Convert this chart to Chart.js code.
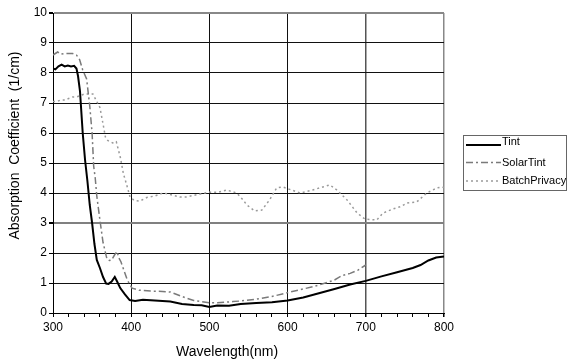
<!DOCTYPE html>
<html>
<head>
<meta charset="utf-8">
<script src="https://cdn.jsdelivr.net/npm/chart.js@4"></script>
<style>
  html, body { margin: 0; padding: 0; background: #fff; }
  #wrap { width: 567px; height: 364px; }
</style>
</head>
<body>
<div id="wrap"><canvas id="myChart" width="567" height="364"></canvas></div>
<script>
// wavelengths (nm) and absorption coefficient (1/cm)
const tint_nm = [300, 303, 307, 311, 315, 319, 323, 327, 330, 332, 334.5, 338, 341, 344, 347, 350, 353, 356, 360, 364, 368, 371, 375, 379, 382, 386, 392, 398, 405, 415, 430, 450, 465, 480, 490, 500, 510, 525, 540, 560, 580, 600, 620, 640, 660, 680, 700, 720, 740, 760, 770, 780, 790, 800];
const tint_val = [8.15, 8.12, 8.22, 8.28, 8.22, 8.25, 8.22, 8.24, 8.15, 7.9, 7.4, 6.0, 5.1, 4.4, 3.6, 3.0, 2.3, 1.77, 1.5, 1.2, 0.98, 0.97, 1.05, 1.2, 1.05, 0.83, 0.62, 0.43, 0.4, 0.44, 0.42, 0.38, 0.3, 0.27, 0.26, 0.2, 0.25, 0.24, 0.3, 0.33, 0.36, 0.42, 0.52, 0.66, 0.8, 0.95, 1.07, 1.22, 1.36, 1.5, 1.6, 1.75, 1.85, 1.88];

const solar_nm = [300, 303, 306, 310, 315, 320, 325, 330, 334, 338, 343, 347, 350, 352, 354, 356, 360, 364, 369, 372, 375, 379, 382, 384, 387, 391, 395, 401, 410, 425, 440, 450, 460, 470, 480, 490, 500, 510, 530, 540, 560, 580, 600, 620, 640, 660, 665, 670, 680, 690, 700];
const solar_val = [8.6, 8.65, 8.7, 8.63, 8.65, 8.65, 8.65, 8.6, 8.45, 8.1, 7.8, 6.9, 6.0, 4.9, 4.5, 3.9, 3.1, 2.35, 1.8, 1.75, 1.77, 1.95, 2.05, 1.85, 1.7, 1.4, 1.1, 0.83, 0.76, 0.73, 0.72, 0.7, 0.6, 0.5, 0.42, 0.38, 0.34, 0.34, 0.38, 0.4, 0.46, 0.55, 0.68, 0.8, 0.93, 1.1, 1.18, 1.25, 1.32, 1.43, 1.6];

const batch_nm = [300, 305, 310, 315, 320, 325, 330, 335, 340, 345, 351, 356, 360, 364, 367, 370, 374, 378, 381, 383, 386, 390, 395, 398.5, 404, 411, 420, 430, 441, 450, 462, 471, 485, 500, 510, 522, 535, 542, 548, 558, 567, 577, 586, 594, 605, 616, 632, 645, 654, 663, 676, 689, 699, 714, 722, 735, 745, 753, 765, 778, 791, 797, 800];
const batch_val = [7.05, 7.05, 7.1, 7.1, 7.15, 7.2, 7.2, 7.25, 7.3, 7.3, 7.3, 7.05, 6.85, 6.3, 5.87, 5.75, 5.7, 5.65, 5.7, 5.5, 5.2, 4.65, 4.2, 3.87, 3.75, 3.73, 3.85, 3.9, 4.0, 3.95, 3.87, 3.87, 3.95, 4.03, 4.02, 4.1, 4.0, 3.8, 3.6, 3.4, 3.43, 3.77, 4.17, 4.2, 4.1, 4.0, 4.1, 4.2, 4.27, 4.1, 3.77, 3.33, 3.13, 3.1, 3.33, 3.47, 3.55, 3.67, 3.7, 4.0, 4.17, 4.2, 4.18];

const series_names = ["Tint", "SolarTint", "BatchPrivacy"];

function pts(xs, ys) {
  return xs.map((x, i) => ({ x: x, y: ys[i] }));
}

const font_family = "'Liberation Sans', Arial, sans-serif";

const data = {
  datasets: [
    {
      label: series_names[0],
      data: pts(tint_nm, tint_val),
      borderColor: "#000",
      borderWidth: 2,
    },
    {
      label: series_names[1],
      data: pts(solar_nm, solar_val),
      borderColor: "#7a7a7a",
      borderWidth: 1.5,
      borderDash: [7, 3, 2, 3],
    },
    {
      label: series_names[2],
      data: pts(batch_nm, batch_val),
      borderColor: "#9a9a9a",
      borderWidth: 1.5,
      borderDash: [2, 3],
    },
  ],
};

// boxed legend on the right, like the original
const boxLegend = {
  id: "boxLegend",
  afterDraw(chart) {
    const ctx = chart.ctx;
    const x0 = 463, y0 = 135, w = 103, h = 55;
    ctx.save();
    ctx.strokeStyle = "#666";
    ctx.lineWidth = 1;
    ctx.strokeRect(x0 + 0.5, y0 + 0.5, w, h);
    ctx.font = "11px " + font_family;
    ctx.textBaseline = "middle";
    ctx.fillStyle = "#000";
    chart.data.datasets.forEach((ds, i) => {
      const y = y0 + 9 + i * 18.5;
      ctx.beginPath();
      ctx.strokeStyle = ds.borderColor;
      ctx.lineWidth = ds.borderWidth;
      ctx.setLineDash(ds.borderDash || []);
      ctx.moveTo(x0 + 3, y + (i === 0 ? 1 : 0));
      ctx.lineTo(x0 + 38, y + (i === 0 ? 1 : 0));
      ctx.stroke();
      ctx.setLineDash([]);
      ctx.fillText(ds.label, x0 + 39, y - (i === 0 ? 2 : 0));
    });
    ctx.restore();
  },
};

const config = {
  type: "line",
  data,
  options: {
    responsive: false,
    animation: false,
    events: [],
    layout: { padding: { top: 13, right: 123, left: 0, bottom: 0 } },
    elements: {
      point: { radius: 0 },
      line: { tension: 0, fill: false },
    },
    plugins: {
      legend: { display: false },
      tooltip: { enabled: false },
    },
    scales: {
      x: {
        type: "linear",
        min: 300,
        max: 800,
        afterFit: (s) => { s.height = 51; },
        ticks: {
          stepSize: 20,
          autoSkip: false,
          maxRotation: 0,
          padding: 3,
          color: "#000",
          font: { family: font_family, size: 12 },
          callback: (v) => (v % 100 === 0 ? v : ""),
        },
        grid: {
          tickLength: 4,
          tickColor: "#000",
          color: (c) => {
            const v = c.tick.value;
            if (v === 800) return "#888";
            if (v === 700) return "#555";
            return v % 100 === 0 ? "#111" : "rgba(0,0,0,0)";
          },
          lineWidth: (c) => (c.tick.value === 700 || c.tick.value === 800 ? 1.5 : 1),
        },
        border: { color: "#000", width: 1 },
        title: {
          display: true,
          text: "Wavelength(nm)           ",
          color: "#000",
          font: { family: font_family, size: 14 },
          padding: { top: 0, bottom: 3 },
        },
      },
      y: {
        min: 0,
        max: 10,
        afterFit: (s) => { s.width = 53; },
        ticks: {
          stepSize: 1,
          padding: 2,
          color: "#000",
          font: { family: font_family, size: 12 },
        },
        grid: {
          tickLength: 4,
          tickColor: "#000",
          color: (c) => {
            const v = c.tick.value;
            if (v === 10) return "#888";
            if (v === 3) return "#808080";
            return "#111";
          },
          lineWidth: (c) => (c.tick.value === 3 || c.tick.value === 10 ? 2 : 1),
        },
        border: { color: "#000", width: 1 },
        title: {
          display: true,
          text: "         Absorption  Coefficient  (1/cm)",
          color: "#000",
          font: { family: font_family, size: 14 },
          padding: { top: 7, bottom: 0 },
        },
      },
    },
  },
  plugins: [boxLegend],
};

const myChart = new Chart(document.getElementById("myChart"), config);
</script>
</body>
</html>
